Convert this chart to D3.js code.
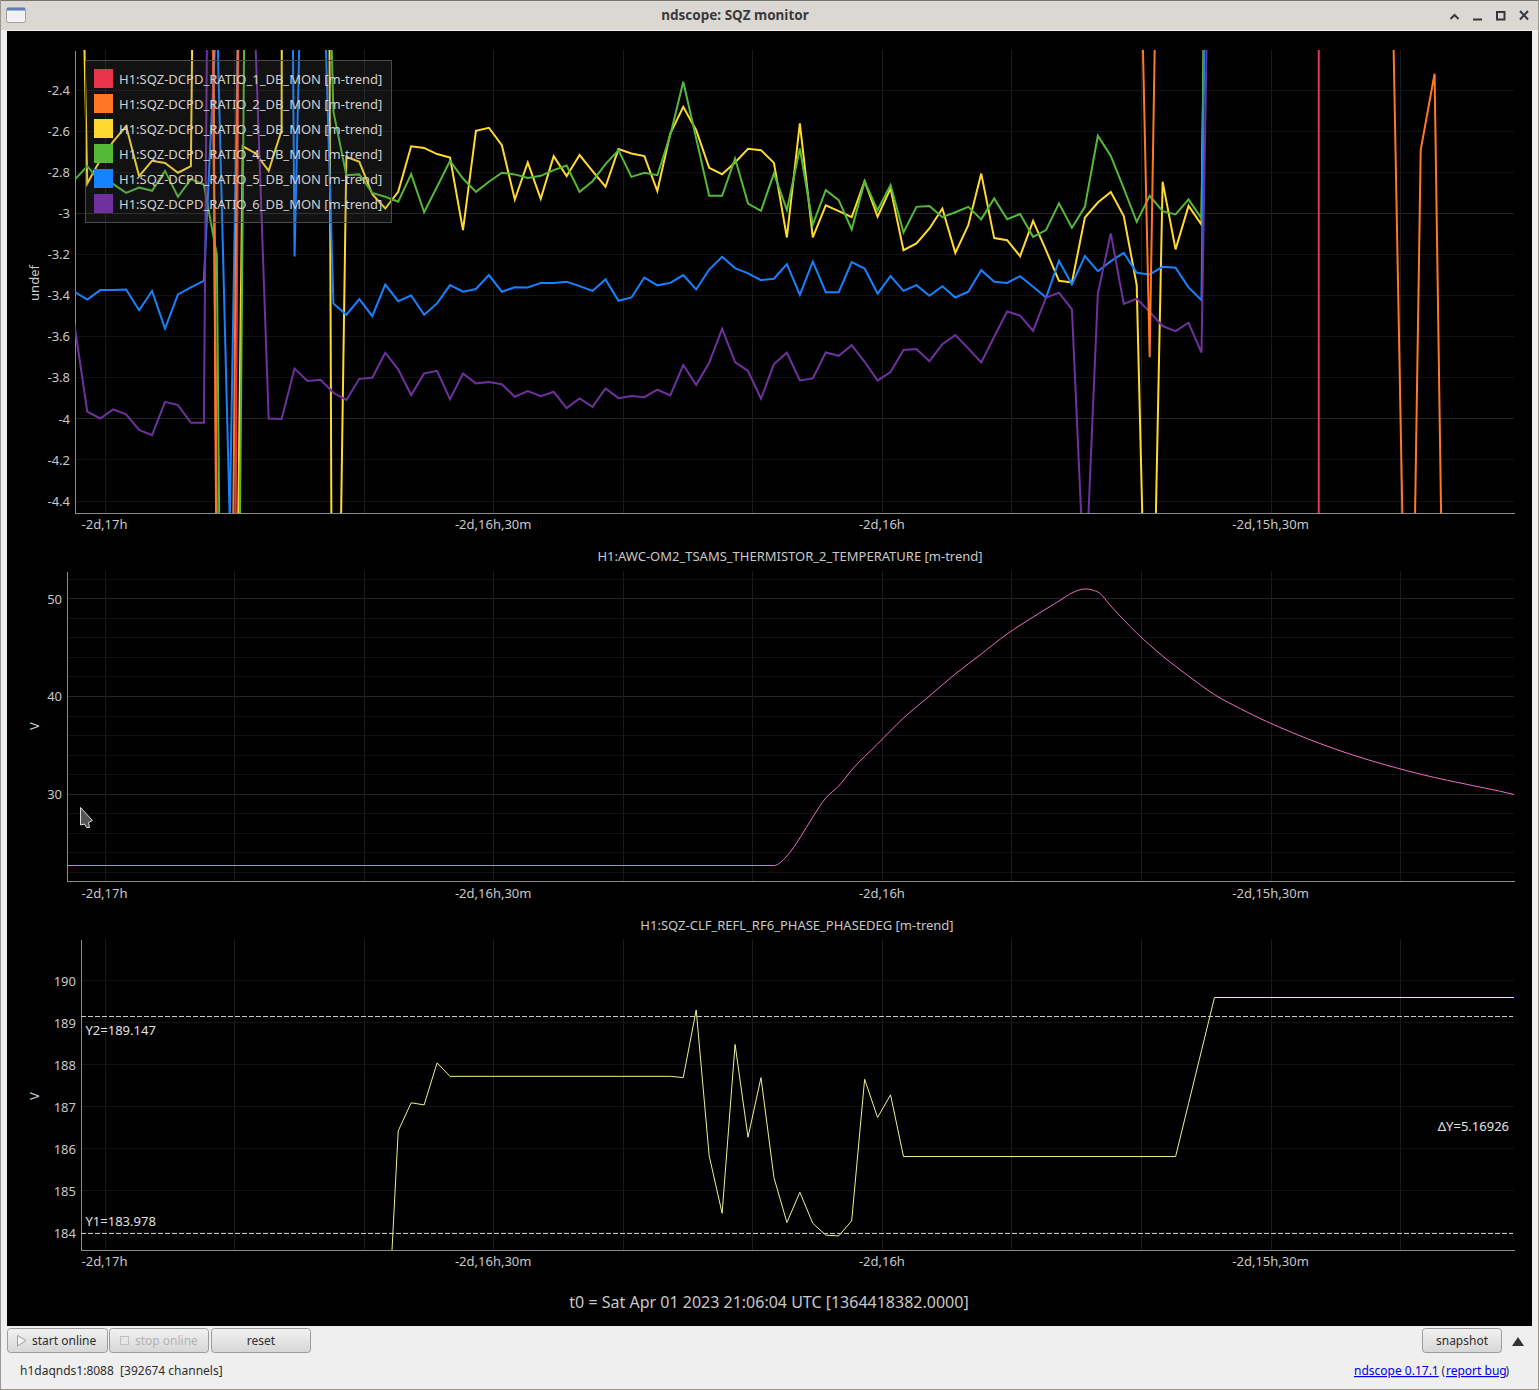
<!DOCTYPE html>
<html><head><meta charset="utf-8"><title>ndscope: SQZ monitor</title>
<script src="https://cdn.jsdelivr.net/npm/d3@7/dist/d3.min.js"></script>
<style>
html,body{margin:0;padding:0;background:#efefef;overflow:hidden}
svg{display:block;font-family:"Noto Sans",sans-serif}
</style></head><body><svg id="c" width="1539" height="1390"></svg>
<script>
// ---- data: x is minutes from the start of the top trace window ----
const channelNames = ["H1:SQZ-DCPD_RATIO_1_DB_MON [m-trend]","H1:SQZ-DCPD_RATIO_2_DB_MON [m-trend]","H1:SQZ-DCPD_RATIO_3_DB_MON [m-trend]","H1:SQZ-DCPD_RATIO_4_DB_MON [m-trend]","H1:SQZ-DCPD_RATIO_5_DB_MON [m-trend]","H1:SQZ-DCPD_RATIO_6_DB_MON [m-trend]"];
const channelColors = ["#e8334a","#ff7722","#ffd92e","#53b937","#1682ff","#70309e"];
const xTickMinutes = [2.37,32.37,62.37,92.37];
const xTickLabels = ["-2d,17h","-2d,16h,30m","-2d,16h","-2d,15h,30m"];
const xGridMinutes = [2.37,12.37,22.37,32.37,42.37,52.37,62.37,72.37,82.37,92.37,102.37];

const ratio1Minutes = [10,11,12,13,96.05,96.05];
const ratio1 = [4.1,-4.9,-9.6,1.64,-1.5,-5];
const ratio2Minutes = [10,11,12,13,82,83,84,101.6,102.6,102.95,103.92,104.99,105.99];
const ratio2 = [6.44,-5.17,-6.26,0.36,-0.81,-3.70,0.17,-1.43,-4.79,-6.63,-2.69,-2.32,-6.59];
const ratio3 = [0.2,-2.854,-2.74,-2.65,-2.575,-2.818,-2.744,-2.754,-2.802,-2.77,3.4,-4.6,-7.9,-2.673,-2.708,-2.793,-2.595,30,30,9,-7,-2.724,-2.749,-2.906,-2.976,-2.895,-2.673,-2.681,-2.711,-2.728,-3.081,-2.598,-2.583,-2.668,-2.932,-2.752,-2.929,-2.721,-2.818,-2.716,-2.794,-2.87,-2.687,-2.708,-2.721,-2.891,-2.611,-2.481,-2.595,-2.778,-2.809,-2.752,-2.685,-2.692,-2.754,-3.117,-2.562,-3.117,-2.961,-2.989,-3.018,-2.843,-3.016,-2.878,-3.179,-3.146,-3.073,-2.976,-3.192,-3.057,-2.806,-3.12,-3.13,-3.208,-3.036,-3.179,-3.328,-3.336,-3.02,-2.947,-2.896,-3.013,-3.349,-5.95,-2.846,-3.175,-2.963,-3.054,2];
const ratio4 = [-2.838,-2.77,-2.846,-2.857,-2.9,-2.874,-2.89,-2.793,-2.919,-2.833,-2.859,-3.2,-10.2,-2.97,4.4,5,5,5,5,-0.2,-2.505,-2.814,-2.81,-2.9,-2.919,-2.943,-2.809,-2.994,-2.87,-2.744,-2.83,-2.895,-2.846,-2.802,-2.81,-2.827,-2.817,-2.789,-2.767,-2.895,-2.843,-2.76,-2.692,-2.822,-2.802,-2.814,-2.619,-2.359,-2.635,-2.914,-2.914,-2.733,-2.952,-2.987,-2.805,-2.984,-2.684,-3.054,-2.887,-2.935,-3.078,-2.846,-2.984,-2.862,-3.093,-2.968,-2.964,-3.018,-2.994,-2.968,-3.029,-2.927,-3.028,-3.003,-3.114,-3.081,-2.951,-3.07,-2.968,-2.622,-2.72,-2.878,-3.041,-2.914,-2.989,-3.005,-2.932,-3.024,2];
const ratio5 = [-3.381,-3.419,-3.373,-3.373,-3.37,-3.471,-3.377,-3.56,-3.394,-3.36,-3.328,-2.0,-4.5,-0.7,5,5,5,-3.21,-0.4,-1.3,-3.438,-3.493,-3.417,-3.5,-3.346,-3.427,-3.399,-3.493,-3.438,-3.349,-3.381,-3.368,-3.3,-3.381,-3.359,-3.36,-3.338,-3.338,-3.333,-3.354,-3.377,-3.321,-3.425,-3.409,-3.312,-3.35,-3.338,-3.3,-3.37,-3.273,-3.211,-3.266,-3.292,-3.325,-3.318,-3.247,-3.396,-3.235,-3.383,-3.383,-3.237,-3.268,-3.39,-3.305,-3.377,-3.349,-3.401,-3.354,-3.409,-3.381,-3.276,-3.333,-3.338,-3.305,-3.357,-3.409,-3.23,-3.346,-3.208,-3.281,-3.232,-3.192,-3.289,-3.297,-3.26,-3.264,-3.36,-3.422,2.5];
const ratio6 = [-3.535,-3.965,-3.998,-3.954,-3.978,-4.054,-4.079,-3.917,-3.933,-4.019,-4.019,3.8,5,5,-2.2,-3.998,-4.0,-3.755,-3.815,-3.81,-3.873,-3.908,-3.805,-3.8,-3.678,-3.759,-3.884,-3.779,-3.766,-3.904,-3.779,-3.827,-3.821,-3.831,-3.892,-3.865,-3.889,-3.868,-3.947,-3.9,-3.941,-3.852,-3.899,-3.889,-3.894,-3.858,-3.886,-3.738,-3.834,-3.727,-3.561,-3.724,-3.767,-3.902,-3.733,-3.678,-3.813,-3.803,-3.677,-3.693,-3.641,-3.722,-3.814,-3.772,-3.665,-3.66,-3.719,-3.636,-3.592,-3.657,-3.725,-3.6,-3.477,-3.497,-3.571,-3.409,-3.386,-3.467,-4.87,-3.39,-3.097,-3.44,-3.415,-3.479,-3.548,-3.573,-3.532,-3.677,0.13];

const temperatureMinutes = [-1,54,55,56,57,58,59,60,62,64,66,68,70,72,74,76,77,78,79,80,82,84,86,88,90,92,94,96,98,100,102,104,106,108,110,111.12];
const temperature = [22.67,22.67,23.64,25.49,27.64,29.59,30.82,32.46,35.13,37.79,40.05,42.31,44.36,46.41,48.15,49.79,50.62,51.03,50.72,49.28,46.51,44.15,42.1,40.2,38.75,37.45,36.3,35.25,34.3,33.45,32.7,32.0,31.4,30.85,30.3,29.95];

const phaseMinutes = [24,25,26,27,28,29,46,47,48,49,50,51,52,53,54,55,56,57,58,59,60,61,62,63,64,85,86,87,88,111.12];
const phase = [180.5,186.43,187.1,187.05,188.05,187.73,187.73,187.7,189.31,185.84,184.47,188.49,186.28,187.7,185.32,184.25,184.97,184.23,183.95,183.93,184.29,187.66,186.75,187.29,185.82,185.82,187.08,188.34,189.607,189.607];

const ratioTicks = [-2.4,-2.6,-2.8,-3,-3.2,-3.4,-3.6,-3.8,-4,-4.2,-4.4];
const tempTicks = [30,40,50];
const tempGrid = [22,24,26,28,30,32,34,36,38,40,42,44,46,48,50,52];
const phaseTicks = [184,185,186,187,188,189,190];
const cursorY1 = 183.978, cursorY2 = 189.147;

// ---- layout ----
const svg = d3.select("#c");
const RIGHT = 1514;
const master = d3.scaleLinear().domain([0,111.12]).range([74.3,RIGHT]);
const panels = [
 {id:"p1",left:75,top:50,bottom:513,dom:[-2.2045,-4.458],ticks:ratioTicks,grid:ratioTicks,major:[-3,-4],pad:7,ylabel:"undef",ylabelY:283},
 {id:"p2",left:67,top:571,bottom:881,dom:[52.87,21.08],ticks:tempTicks,grid:tempGrid,major:[30,40,50],pad:8,ylabel:"V",ylabelY:726,title:"H1:AWC-OM2_TSAMS_THERMISTOR_2_TEMPERATURE [m-trend]",titleX:790,titleY:561},
 {id:"p3",left:81,top:939,bottom:1250,dom:[191,183.595],ticks:phaseTicks,grid:phaseTicks,major:[],pad:7,ylabel:"V",ylabelY:1096,title:"H1:SQZ-CLF_REFL_RF6_PHASE_PHASEDEG [m-trend]",titleX:797,titleY:930}
];

// window chrome
svg.append("rect").attr("width",1539).attr("height",1390).attr("fill","#efefef");
svg.append("rect").attr("width",1539).attr("height",30).attr("fill","#dbd8d4");
svg.append("rect").attr("x",0).attr("y",0).attr("width",1539).attr("height",1).attr("fill","#77736f");
svg.append("rect").attr("x",0).attr("y",0).attr("width",1).attr("height",1390).attr("fill","#9a9690");
svg.append("rect").attr("x",1538).attr("y",0).attr("width",1).attr("height",1390).attr("fill","#9a9690");
svg.append("rect").attr("x",0).attr("y",1389).attr("width",1539).attr("height",1).attr("fill","#9a9690");
svg.append("text").attr("x",735).attr("y",20).attr("text-anchor","middle").attr("font-size",13.5).attr("font-weight",700).attr("fill","#3b3b3b").text("ndscope: SQZ monitor");
svg.append("rect").attr("x",6.5).attr("y",7.5).attr("width",19).attr("height",15).attr("rx",2).attr("fill","#f2f2f2").attr("stroke","#a0a0a0");
svg.append("rect").attr("x",7).attr("y",8).attr("width",18).attr("height",2.5).attr("fill","#5b7fb8");
// title-bar buttons
const wb = svg.append("g").attr("fill","none").attr("stroke","#33383c").attr("stroke-width",2);
wb.append("path").attr("d","M1450.5 19 L1454.5 15 L1458.5 19");
wb.append("path").attr("d","M1473 19.5 H1482");
wb.append("rect").attr("x",1497).attr("y",12).attr("width",7.5).attr("height",7.5);
wb.append("path").attr("d","M1520 11 L1528 19.5 M1528 11 L1520 19.5");
svg.append("rect").attr("x",7).attr("y",31).attr("width",1525).attr("height",1295).attr("fill","#000");

// panels
const fmt = d=>String(d);
panels.forEach(p=>{
  const x = master.copy().domain([master.invert(p.left),master.invert(RIGHT)]).range([p.left,RIGHT]);
  const y = d3.scaleLinear().domain(p.dom).range([p.top,p.bottom]);
  p.x=x;p.y=y;
  const g = svg.append("g").attr("id",p.id);
  svg.append("clipPath").attr("id","clip-"+p.id).append("rect").attr("x",p.left).attr("y",p.top).attr("width",RIGHT-p.left).attr("height",p.bottom-p.top);
  p.g=g;
  // grid
  const grid=g.append("g").attr("shape-rendering","crispEdges");
  grid.selectAll("line.h").data(p.grid).join("line").attr("class","h").attr("x1",p.left).attr("x2",RIGHT)
    .attr("y1",d=>y(d)).attr("y2",d=>y(d)).attr("stroke",d=>p.major.includes(d)?"#242424":"#121212");
  grid.selectAll("line.v").data(xGridMinutes).join("line").attr("class","v").attr("y1",p.top).attr("y2",p.bottom)
    .attr("x1",d=>x(d)).attr("x2",d=>x(d)).attr("stroke","#1a1a1a");
  // axes
  const ax=d3.axisBottom(x).tickValues(xTickMinutes).tickFormat((d,i)=>xTickLabels[i]).tickSize(0).tickPadding(p.pad);
  const gx=g.append("g").attr("transform",`translate(0,${p.bottom})`).call(ax);
  gx.selectAll("text").attr("dx",-1);
  const ay=d3.axisLeft(y).tickValues(p.ticks).tickFormat(fmt).tickSize(0).tickPadding(5);
  const gy=g.append("g").attr("transform",`translate(${p.left},0)`).call(ay);
  [gx,gy].forEach(s=>{
    s.attr("font-family",null).attr("font-size",13);
    s.selectAll("text").attr("fill","#c8c8c8");
    s.select(".domain").attr("stroke","#8c8c8c").attr("stroke-width",1).attr("shape-rendering","crispEdges");
  });
  g.append("text").attr("transform",`translate(39,${p.ylabelY}) rotate(-90)`).attr("text-anchor","middle").attr("font-size",13).attr("fill","#c8c8c8").text(p.ylabel);
  if(p.title) g.append("text").attr("x",p.titleX).attr("y",p.titleY).attr("text-anchor","middle").attr("font-size",13).attr("fill","#c8c8c8").text(p.title);
});

function trace(p,ms,vs,color,w,curve){
  const line=d3.line().x(d=>p.x(d[0])).y(d=>p.y(d[1])).curve(curve||d3.curveLinear);
  p.g.append("path").datum(d3.zip(ms,vs)).attr("clip-path",`url(#clip-${p.id})`)
    .attr("d",line).attr("fill","none").attr("stroke",color).attr("stroke-width",w).attr("stroke-linejoin","miter");
}
// top panel
const topPanel=panels[0];
const idx = a=>a.map((_,i)=>i);
trace(topPanel,idx(ratio3),ratio3,channelColors[2],2);
trace(topPanel,idx(ratio4),ratio4,channelColors[3],2);
trace(topPanel,idx(ratio5),ratio5,channelColors[4],2);
trace(topPanel,idx(ratio6),ratio6,channelColors[5],2);
trace(topPanel,ratio1Minutes,ratio1,channelColors[0],2);
trace(topPanel,ratio2Minutes,ratio2,channelColors[1],2);

// legend
const lg=svg.append("g");
lg.append("rect").attr("x",85.5).attr("y",60.5).attr("width",306).attr("height",162).attr("fill","#646464").attr("fill-opacity",0.18).attr("stroke","#4a4a4a");
channelNames.forEach((n,i)=>{
  lg.append("rect").attr("x",94).attr("y",69+25*i).attr("width",19).attr("height",19).attr("fill",channelColors[i]);
  lg.append("text").attr("x",119).attr("y",84+25*i).attr("font-size",13).attr("fill","#d0d0d0").text(n);
});

// middle panel
trace(panels[1],temperatureMinutes,temperature,"#ee6cc6",1,d3.curveMonotoneX);
// mouse pointer
svg.append("path").attr("d","M80.5 807.5 V825 L84.5 824 L86.5 827.5 L89.5 827.5 L88.5 822.5 L92.5 820.5 Z").attr("fill","#555").attr("stroke","#ddd").attr("stroke-width",1);

// bottom panel
const p3=panels[2];
trace(p3,phaseMinutes,phase,"#eef08f",1);
[cursorY2,cursorY1].forEach(c=>{
  p3.g.append("line").attr("x1",p3.left).attr("x2",RIGHT-1).attr("y1",p3.y(c)).attr("y2",p3.y(c))
    .attr("stroke","#c9c9c9").attr("stroke-dasharray","5 2").attr("shape-rendering","crispEdges");
});
const cur=(x,y,t,a)=>svg.append("text").attr("x",x).attr("y",y).attr("text-anchor",a||"start").attr("font-size",13).attr("fill","#e0e0e0").text(t);
cur(85.5,1035,"Y2="+cursorY2);
cur(85.5,1226,"Y1="+cursorY1);
cur(1509,1131,"ΔY=5.16926","end");

svg.append("text").attr("x",769).attr("y",1308).attr("text-anchor","middle").attr("font-size",16).attr("fill","#c8c8c8").text("t0 = Sat Apr 01 2023 21:06:04 UTC [1364418382.0000]");

// buttons and status bar
const defs=svg.append("defs");
const gr=defs.append("linearGradient").attr("id","btn").attr("x1",0).attr("x2",0).attr("y1",0).attr("y2",1);
gr.append("stop").attr("offset","0").attr("stop-color","#f2f2f2");
gr.append("stop").attr("offset","1").attr("stop-color","#d6d6d6");
function button(x,w,label,tx,color,anchor){
  svg.append("rect").attr("x",x+.5).attr("y",1328.5).attr("width",w).attr("height",24).attr("rx",3).attr("fill","url(#btn)").attr("stroke","#9c9c9c");
  svg.append("text").attr("x",tx).attr("y",1345).attr("text-anchor",anchor||"start").attr("font-size",12).attr("fill",color).text(label);
}
button(7,100,"start online",32,"#2e2e2e");
button(109,99,"stop online",135,"#b4b4b4");
button(211,99,"reset",261,"#2e2e2e","middle");
button(1422,79,"snapshot",1462,"#2e2e2e","middle");
svg.append("path").attr("d","M17.5 1335.5 L26 1340.5 L17.5 1346 Z").attr("fill","#f4f4f4").attr("stroke","#9e9e9e");
svg.append("rect").attr("x",120.5).attr("y",1336.5).attr("width",8).attr("height",8).attr("fill","#e6e6e6").attr("stroke","#c0c0c0");
svg.append("path").attr("d","M1512 1346 L1518 1337 L1524 1346 Z").attr("fill","#333");
svg.append("text").attr("x",20).attr("y",1375).attr("font-size",12).attr("fill","#2e2e2e").style("white-space","pre").text("h1daqnds1:8088  [392674 channels]");
const link=(x,t)=>svg.append("text").attr("x",x).attr("y",1375).attr("font-size",12).attr("fill","#0000ee").attr("text-decoration","underline").text(t);
link(1354,"ndscope 0.17.1");
svg.append("text").attr("x",1441.5).attr("y",1375).attr("font-size",12).attr("fill","#2e2e2e").text("(");
link(1446,"report bug");
svg.append("text").attr("x",1505.5).attr("y",1375).attr("font-size",12).attr("fill","#2e2e2e").text(")");
</script></body></html>
